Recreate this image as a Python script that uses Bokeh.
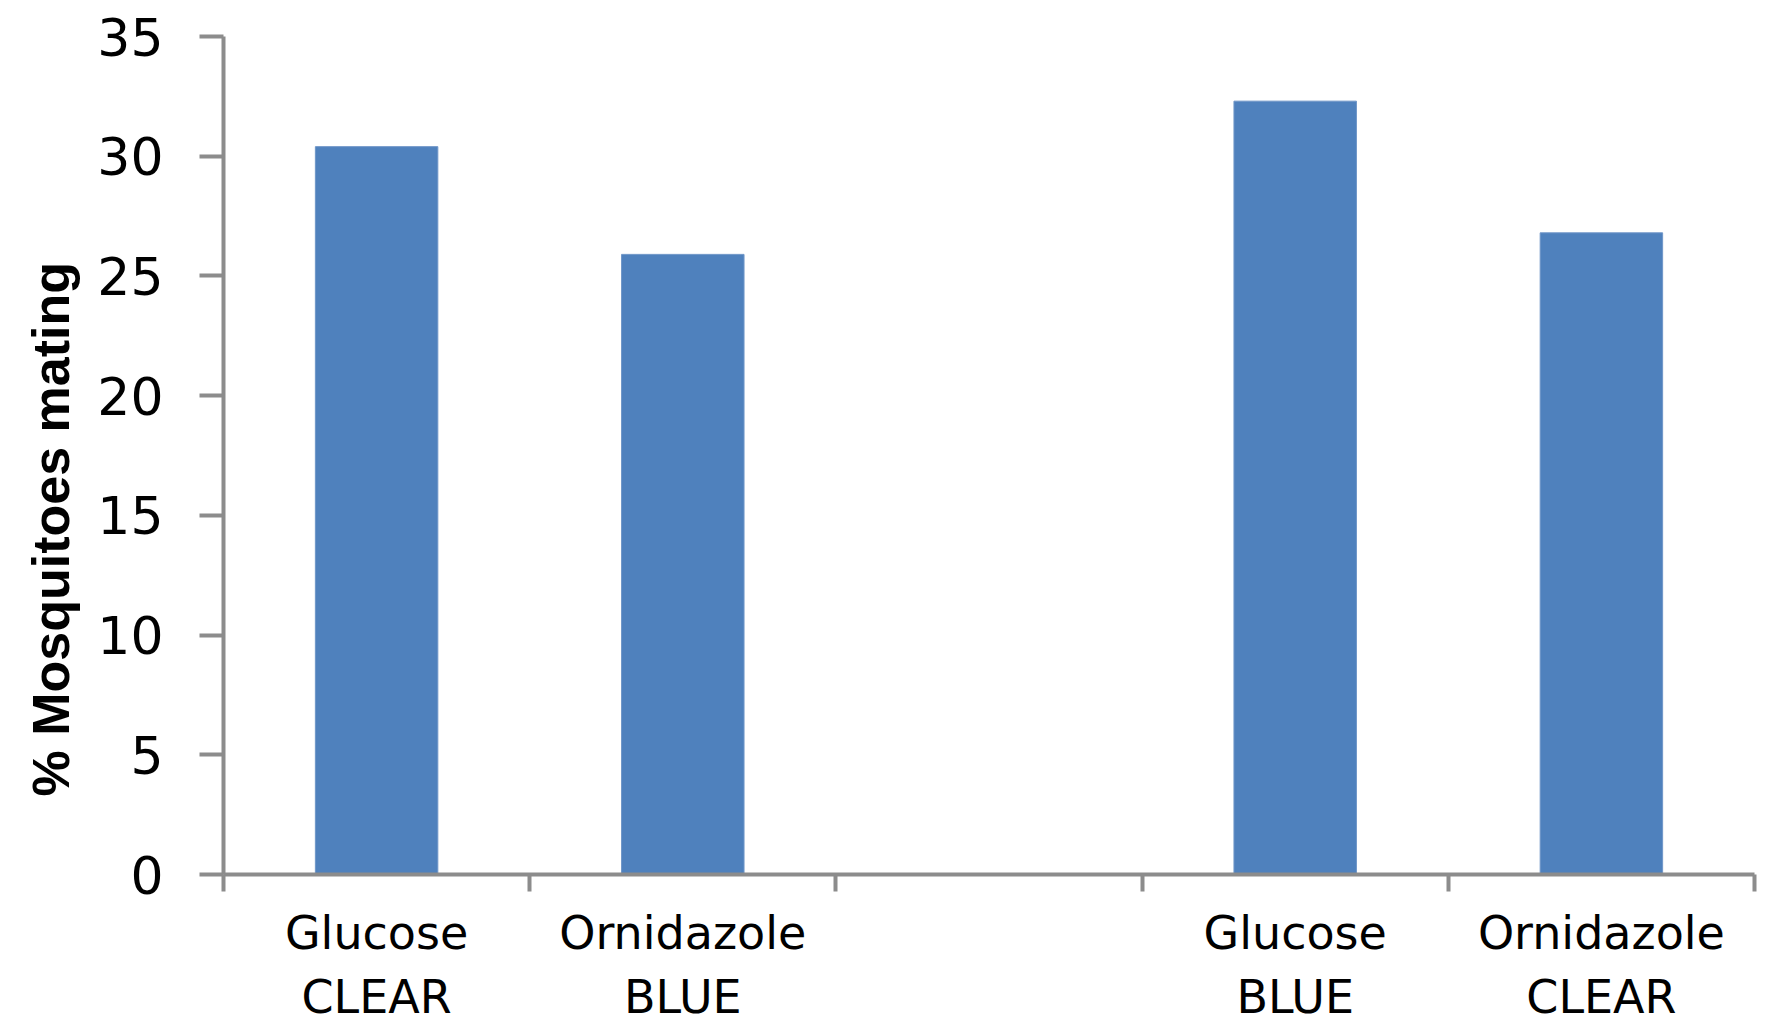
from bokeh.plotting import figure
from bokeh.models import Range1d, FixedTicker, Title
from bokeh.embed import file_html
from bokeh.resources import INLINE

# Data
categories = ["Glucose\nCLEAR", "Ornidazole\nBLUE", "", "Glucose\nBLUE", "Ornidazole\nCLEAR"]
values = [30.4, 25.9, None, 32.3, 26.8]
y_ticks = [0, 5, 10, 15, 20, 25, 30, 35]
y_title = "% Mosquitoes mating"

xs = [i + 0.5 for i, v in enumerate(values) if v is not None]
tops = [v for v in values if v is not None]

p = figure(width=1766, height=1027, output_backend="svg", toolbar_location=None,
           x_range=Range1d(0, len(categories)), y_range=Range1d(0, 35),
           min_border_left=223, min_border_right=12, min_border_top=36, min_border_bottom=152)
p.outline_line_color = None
p.xgrid.visible = False
p.ygrid.visible = False
p.background_fill_color = "white"
p.border_fill_color = "white"

p.vbar(x=xs, top=tops, width=0.4, bottom=0, fill_color="#4F81BD", line_color="#6F96C8", line_width=1)

axis_color = "#8C8C8C"

# y axis
ya = p.yaxis[0]
ya.ticker = FixedTicker(ticks=y_ticks, minor_ticks=[])
ya.axis_line_color = axis_color
ya.axis_line_width = 4
ya.major_tick_line_color = axis_color
ya.major_tick_line_width = 4
ya.major_tick_out = 24
ya.major_tick_in = 0
ya.minor_tick_line_color = None
ya.major_label_standoff = 36
ya.major_label_text_font = "DejaVu Sans"
ya.major_label_text_font_size = "52px"
ya.major_label_text_color = "black"

# x axis: labels at centers, tick marks at boundaries (minor)
xa = p.xaxis[0]
centers = [i + 0.5 for i in range(len(categories))]
xa.ticker = FixedTicker(ticks=centers, minor_ticks=list(range(len(categories) + 1)))
xa.major_label_overrides = {c: lab for c, lab in zip(centers, categories)}
xa.axis_line_color = axis_color
xa.axis_line_width = 4
xa.major_tick_line_color = None
xa.major_tick_out = 17
xa.major_tick_in = 0
xa.minor_tick_line_color = axis_color
xa.minor_tick_line_width = 4
xa.minor_tick_out = 17
xa.minor_tick_in = 0
xa.major_label_standoff = 14
xa.major_label_text_font = "DejaVu Sans"
xa.major_label_text_font_size = "46px"
xa.major_label_text_line_height = 1.2
xa.major_label_text_color = "black"

# y title, starting above the frame bottom as in the reference
t = Title(text=y_title, align="left", offset=78, standoff=30,
          text_font="Liberation Sans", text_font_style="bold",
          text_font_size="52px", text_color="black")
p.add_layout(t, "left")

open("out.html", "w").write(file_html(p, INLINE))
